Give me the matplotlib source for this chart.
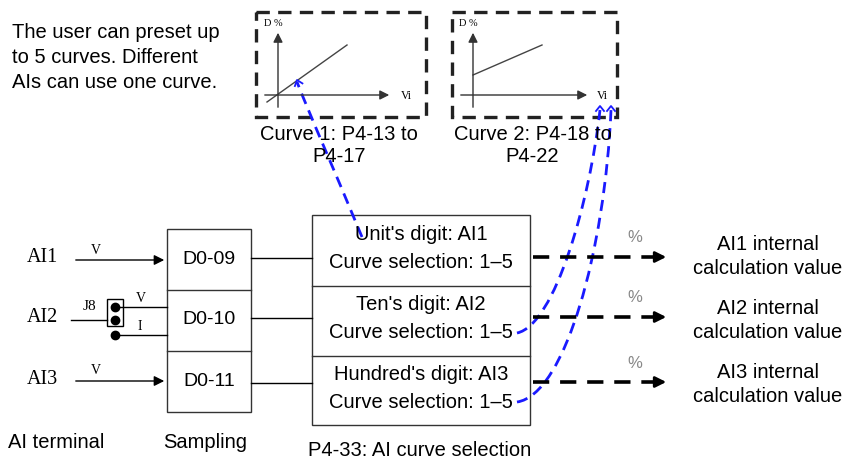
import matplotlib.pyplot as plt
from matplotlib.path import Path
from matplotlib.patches import PathPatch, Rectangle
import numpy as np

# ---------- DATA ----------
note_lines = ["The user can preset up", "to 5 curves. Different", "AIs can use one curve."]
curve_captions = [("Curve 1: P4-13 to", "P4-17"), ("Curve 2: P4-18 to", "P4-22")]
ai_terminals = ["AI1", "AI2", "AI3"]
sampling_codes = ["D0-09", "D0-10", "D0-11"]
selection_rows = [("Unit's digit: AI1", "Curve selection: 1\u20135"),
                  ("Ten's digit: AI2", "Curve selection: 1\u20135"),
                  ("Hundred's digit: AI3", "Curve selection: 1\u20135")]
outputs = [("AI1 internal", "calculation value"),
           ("AI2 internal", "calculation value"),
           ("AI3 internal", "calculation value")]
bottom_labels = ["AI terminal", "Sampling", "P4-33: AI curve selection"]
# --------------------------

SANS = "Liberation Sans"
SERIF = "Liberation Serif"
BLUE = "#1a1aff"

fig = plt.figure(figsize=(8.66, 4.59), dpi=100)
ax = fig.add_axes([0, 0, 1, 1])
ax.set_xlim(0, 866)
ax.set_ylim(459, 0)
ax.axis("off")


def chevron(x, y, dx, dy, size=5, color=BLUE):
    d = np.array([dx, dy], float)
    d /= np.hypot(*d)
    n = np.array([-d[1], d[0]])
    tip = np.array([x, y])
    a = tip - d * size + n * size * 0.8
    b = tip - d * size - n * size * 0.8
    ax.plot([a[0], tip[0], b[0]], [a[1], tip[1], b[1]], color=color, lw=1.3)


# note text
for i, line in enumerate(note_lines):
    ax.text(12, 33 + i * 24.5, line, fontsize=14.5, family=SANS, va="center", ha="left")

# curve boxes
boxes = [(256, 426, 278), (452, 617, 473)]
for k, (x0, x1, yx) in enumerate(boxes):
    ax.add_patch(Rectangle((x0, 12), x1 - x0, 105, fill=False, lw=2.4,
                           ls=(0, (4, 2.5)), ec="#222222"))
    # axes inside
    ax.annotate("", xy=(yx, 30), xytext=(yx, 110),
                arrowprops=dict(arrowstyle="-|>", color="#333333", lw=1.0, mutation_scale=14))
    ax.annotate("", xy=(x0 + 136 if k == 0 else x0 + 138, 95), xytext=(x0 + 6, 95),
                arrowprops=dict(arrowstyle="-|>", color="#333333", lw=1.0, mutation_scale=14))
    ax.text(yx - 5, 23, "D %", fontsize=7.5, family=SERIF, va="center", ha="center")
    ax.text(x0 + 150, 96, "Vi", fontsize=8.5, family=SERIF, va="center", ha="center")
    cx = (x0 + x1) / 2 - 2
    ax.text(cx, 135, curve_captions[k][0], fontsize=14.5, family=SANS, va="center", ha="center")
    ax.text(cx, 157, curve_captions[k][1], fontsize=14.5, family=SANS, va="center", ha="center")

ax.plot([267, 347], [102, 45], color="#444444", lw=1.0)
ax.plot([473, 542], [75, 45], color="#444444", lw=1.0)

# AI terminals
term_y = [259, 320, 381]
for name, y in zip(ai_terminals, term_y):
    ax.text(42, y - 2, name, fontsize=14.5, family=SERIF, va="center", ha="center")
for y in (260, 381):
    ax.annotate("", xy=(167, y), xytext=(73, y),
                arrowprops=dict(arrowstyle="-|>", color="black", lw=1.0, mutation_scale=15))
    ax.text(96, y - 10, "V", fontsize=10, family=SERIF, va="center", ha="center")

# J8 jumper
ax.plot([71, 107], [320, 320], color="black", lw=1.0)
ax.add_patch(Rectangle((107, 299), 16, 27, fill=False, lw=1.0, ec="black"))
for yy in (307, 320, 335):
    ax.plot(115, yy, "o", color="black", ms=6)
ax.plot([115, 167], [307, 307], color="black", lw=1.0)
ax.plot([115, 167], [335, 335], color="black", lw=1.0)
ax.text(141, 298, "V", fontsize=10, family=SERIF, va="center", ha="center")
ax.text(140, 327, "I", fontsize=10, family=SERIF, va="center", ha="center")
ax.text(89, 306, "J8", fontsize=11, family=SERIF, va="center", ha="center")

# sampling box
ax.add_patch(Rectangle((167, 229), 84, 183, fill=False, lw=1.0, ec="#333333"))
for yy in (290, 351):
    ax.plot([167, 251], [yy, yy], color="#333333", lw=1.0)
for code, y in zip(sampling_codes, [260, 319, 381]):
    ax.text(209, y, code, fontsize=14, family=SANS, va="center", ha="center")

# links to selection box
for yy in (258, 318, 383):
    ax.plot([251, 312], [yy, yy], color="black", lw=1.0)

# selection box
ax.add_patch(Rectangle((312, 215), 218, 210, fill=False, lw=1.0, ec="#333333"))
for yy in (286, 356):
    ax.plot([312, 530], [yy, yy], color="#333333", lw=1.0)
for (l1, l2), y in zip(selection_rows, [235, 305, 375]):
    ax.text(421, y, l1, fontsize=14.5, family=SANS, va="center", ha="center")
    ax.text(421, y + 27, l2, fontsize=14.5, family=SANS, va="center", ha="center")

# dashed output arrows
for (o1, o2), y, ly in zip(outputs, [257, 317, 382], [245, 308, 373]):
    ax.plot([533, 655], [y, y], color="black", lw=2.6, ls=(0, (4.5, 3)))
    ax.annotate("", xy=(669, y), xytext=(652, y),
                arrowprops=dict(arrowstyle="-|>", color="black", lw=2.0, mutation_scale=16))
    ax.text(635, y - 19, "%", fontsize=12, family=SANS, color="#888888", va="center", ha="center")
    ax.text(768, ly, o1, fontsize=14.5, family=SANS, va="center", ha="center")
    ax.text(768, ly + 24, o2, fontsize=14.5, family=SANS, va="center", ha="center")

# bottom labels
for lab, x, y in zip(bottom_labels, [56, 205, 420], [443, 443, 450]):
    ax.text(x, y, lab, fontsize=14.5, family=SANS, va="center", ha="center")

# blue dashed links
curves = [
    [(362, 237), (330, 160), (312, 120), (297, 82)],
    [(517, 333), (555, 325), (590, 200), (600, 110)],
    [(517, 402), (565, 395), (605, 250), (611, 110)],
]
for pts in curves:
    path = Path(pts, [Path.MOVETO, Path.CURVE4, Path.CURVE4, Path.CURVE4])
    ax.add_patch(PathPatch(path, fill=False, ec=BLUE, lw=2.0, ls=(0, (4, 2.5))))
chevron(297, 80, -0.35, -1)
chevron(600, 106, 0, -1)
chevron(611, 106, 0, -1)

fig.savefig("out.png", dpi=100)
